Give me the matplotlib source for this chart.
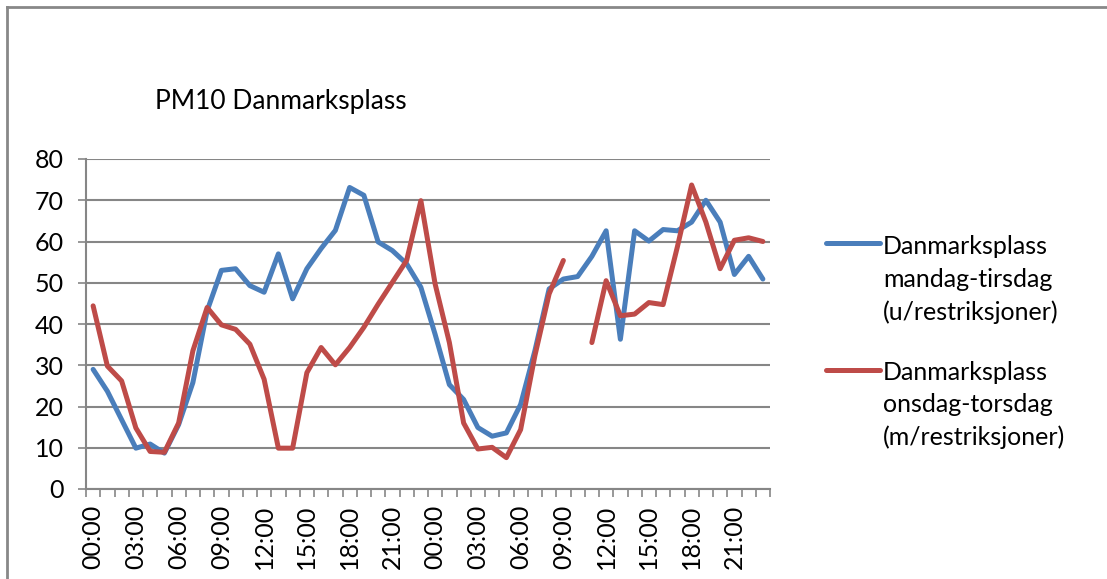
import matplotlib
matplotlib.use("Agg")
import matplotlib.pyplot as plt
from matplotlib.lines import Line2D
import numpy as np

plt.rcParams['font.family'] = ['Lato', 'DejaVu Sans']

# timer, to døgn
timer = [f"{h:02d}:00" for h in range(24)] * 2

# mandag-tirsdag (u/restriksjoner)
blaa = [29.0, 23.7, 16.8, 9.9, 10.9, 8.7, 15.6, 25.8, 43.2, 53.0, 53.4, 49.3,
        47.7, 57.0, 46.1, 53.4, 58.3, 62.7, 73.1, 71.2, 59.9, 57.8, 54.6, 48.9,
        37.5, 25.3, 21.7, 14.9, 12.8, 13.6, 20.5, 33.5, 48.5, 50.9, 51.5, 56.4,
        62.6, 36.3, 62.6, 60.1, 62.9, 62.6, 64.7, 70.0, 64.7, 52.0, 56.4, 50.9]

# onsdag-torsdag (m/restriksjoner), mangler kl 10 andre dag
roed = [44.4, 29.8, 26.2, 14.8, 9.1, 8.9, 16.0, 33.5, 44.0, 39.8, 38.7, 35.1,
        26.6, 9.9, 9.9, 28.2, 34.3, 30.1, 34.3, 39.2, 44.8, 50.1, 55.4, 69.9,
        49.7, 35.5, 16.0, 9.7, 10.1, 7.6, 14.4, 32.3, 47.3, 55.4, np.nan, 35.5,
        50.5, 42.0, 42.4, 45.2, 44.7, 58.7, 73.7, 64.7, 53.4, 60.3, 60.9, 60.0]

linjer_blaa = ["Danmarksplass", "mandag-tirsdag", "(u/restriksjoner)"]
linjer_roed = ["Danmarksplass", "onsdag-torsdag", "(m/restriksjoner)"]

blaa_farge = '#4A7EBB'
roed_farge = '#BE4B48'
graa = '#868686'

W, H = 1107, 579
fig = plt.figure(figsize=(W / 100, H / 100), dpi=100)
ax = fig.add_axes([86 / W, 1 - 489 / H, (770 - 86) / W, (489 - 159) / H])

x = np.arange(len(timer))
ax.plot(x, blaa, color=blaa_farge, lw=3.6, solid_joinstyle='round', solid_capstyle='round')
ax.plot(x, roed, color=roed_farge, lw=3.6, solid_joinstyle='round', solid_capstyle='round')

ax.set_xlim(-0.5, len(timer) - 0.5)
ax.set_ylim(0, 80)
ax.set_yticks(range(0, 81, 10))
ax.yaxis.grid(True, color=graa, lw=1.5)
ax.set_axisbelow(True)

ax.set_xticks(x[::3])
ax.set_xticklabels(timer[::3], rotation=90)
ax.set_xticks(np.arange(-0.5, len(timer)), minor=True)
ax.tick_params(axis='x', which='major', length=0, pad=11, labelsize=18)
ax.tick_params(axis='x', which='minor', length=6, width=1.2, color=graa, direction='out')
ax.tick_params(axis='y', length=6, width=1.2, color=graa, pad=10, labelsize=18)

for s in ['top', 'right']:
    ax.spines[s].set_visible(False)
for s in ['left', 'bottom']:
    ax.spines[s].set_color(graa)
    ax.spines[s].set_linewidth(1.5)

fig.text(155 / W, 1 - 101 / H, "PM10 Danmarksplass", fontsize=19, va='center', ha='left')

# legende
for yl, yt, farge, linjer in [(243, 247, blaa_farge, linjer_blaa), (370, 372, roed_farge, linjer_roed)]:
    fig.add_artist(Line2D([826 / W, 880 / W], [1 - yl / H, 1 - yl / H], color=farge, lw=3.6,
                          solid_capstyle='round'))
    for k, t in enumerate(linjer):
        fig.text(883 / W, 1 - (yt + 32.5 * k) / H, t, fontsize=18, va='center', ha='left')

# ramme
fig.add_artist(Line2D([7 / W, 1], [1 - 7 / H, 1 - 7 / H], color='#888888', lw=2))
fig.add_artist(Line2D([7 / W, 7 / W], [1 - 7 / H, 0], color='#888888', lw=2))

fig.savefig('out.png', dpi=100)
